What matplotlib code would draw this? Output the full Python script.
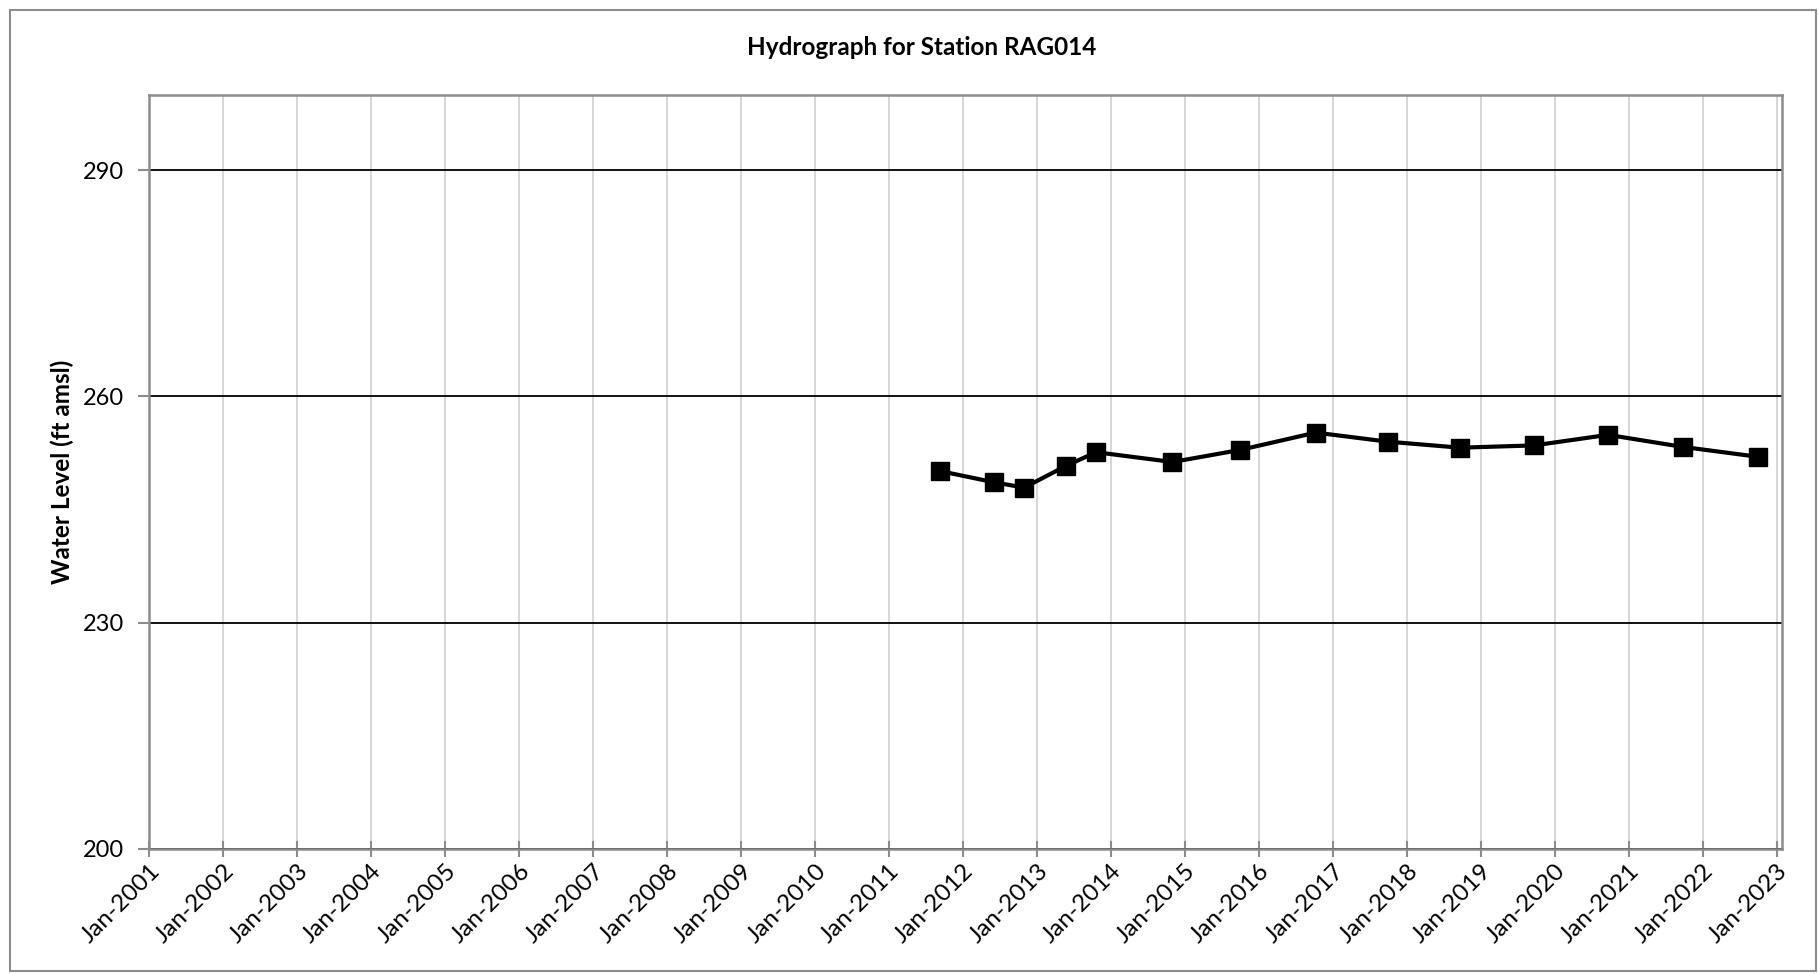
import matplotlib
matplotlib.use("Agg")
import matplotlib.pyplot as plt
import matplotlib.dates as mdates
import numpy as np
import pandas as pd

dates = pd.to_datetime([
    "2011-09-10", "2012-06-05", "2012-10-30", "2013-05-25", "2013-10-20",
    "2014-11-01", "2015-10-01", "2016-10-08", "2017-09-28", "2018-09-20",
    "2019-09-20", "2020-09-20", "2021-09-25", "2022-09-28",
])
water_level = [250.1, 248.6, 247.9, 250.8, 252.6, 251.3, 252.9, 255.2,
               254.0, 253.2, 253.5, 254.9, 253.3, 252.0]

y_ticks = [200, 230, 260, 290]
tick_years = list(range(2001, 2024))

plt.rcParams['font.family'] = ['Lato', 'DejaVu Sans']

fig = plt.figure(figsize=(18.18, 9.74), dpi=100)
ax = fig.add_axes([0.082, 0.1286, 0.898, 0.774])

# Rahmen um die ganze Grafik
fig.patches.append(plt.Rectangle((0.0055, 0.003), 0.9935, 0.987, transform=fig.transFigure,
                                 fill=False, edgecolor='#8c8c8c', linewidth=1.5))

ax.plot(dates, water_level, color='black', linewidth=3, marker='s',
        markersize=13.5, markerfacecolor='black', markeredgecolor='black', zorder=3)

ax.set_ylim(200, 300)
ax.set_yticks(y_ticks)
ax.set_xlim(pd.Timestamp("2001-01-01"), pd.Timestamp("2023-01-25"))
ax.set_xticks([pd.Timestamp(f"{y}-01-01") for y in tick_years])
ax.xaxis.set_major_formatter(mdates.DateFormatter("%b-%Y"))

ax.grid(axis='x', color='#d0d0d0', linewidth=1.2)
ax.grid(axis='y', color='black', linewidth=1.3)
ax.set_axisbelow(True)

for s in ax.spines.values():
    s.set_color('#8c8c8c')
    s.set_linewidth(1.8)

ax.tick_params(axis='x', direction='inout', length=12, color='#8c8c8c', width=1.5,
               labelsize=17.5, pad=2)
ax.tick_params(axis='y', direction='out', length=8, color='#8c8c8c', width=1.5,
               labelsize=17, pad=10)
plt.setp(ax.get_xticklabels(), rotation=45, ha='right', rotation_mode='anchor')

ax.set_ylabel("Water Level (ft amsl)", fontsize=17.5, fontweight='bold', labelpad=6)
fig.text(0.507, 0.951, "Hydrograph for Station RAG014", ha='center', va='center',
         fontsize=17.5, fontweight='bold')

fig.savefig("out.png", dpi=100)
